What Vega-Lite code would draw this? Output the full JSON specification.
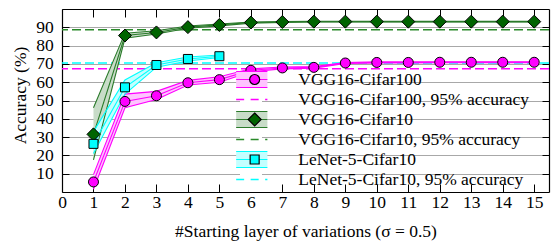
{
  "$schema": "https://vega.github.io/schema/vega-lite/v6.json",
  "width": 487,
  "height": 183,
  "autosize": {"type": "none"},
  "padding": {"left": 62, "top": 9, "right": 4, "bottom": 52},
  "background": "white",
  "datasets": {
    "bands": [
      {"series": "VGG16-Cifar100", "x": 1, "mean": 5.5, "lo": 1.5, "hi": 9.5},
      {"series": "VGG16-Cifar100", "x": 2, "mean": 49.5, "lo": 46, "hi": 53.5},
      {"series": "VGG16-Cifar100", "x": 3, "mean": 52.6, "lo": 50.5, "hi": 55},
      {"series": "VGG16-Cifar100", "x": 4, "mean": 59.7, "lo": 58.5, "hi": 61},
      {"series": "VGG16-Cifar100", "x": 5, "mean": 61.4, "lo": 60, "hi": 63},
      {"series": "VGG16-Cifar100", "x": 6, "mean": 66.5, "lo": 65.7, "hi": 67.3},
      {"series": "VGG16-Cifar100", "x": 7, "mean": 67.8, "lo": 67.3, "hi": 68.3},
      {"series": "VGG16-Cifar100", "x": 8, "mean": 68.1, "lo": 67.7, "hi": 68.5},
      {"series": "VGG16-Cifar100", "x": 9, "mean": 70.5, "lo": 70.2, "hi": 70.8},
      {"series": "VGG16-Cifar100", "x": 10, "mean": 70.8, "lo": 70.5, "hi": 71.1},
      {"series": "VGG16-Cifar100", "x": 11, "mean": 70.8, "lo": 70.5, "hi": 71.1},
      {"series": "VGG16-Cifar100", "x": 12, "mean": 70.9, "lo": 70.6, "hi": 71.2},
      {"series": "VGG16-Cifar100", "x": 13, "mean": 70.9, "lo": 70.6, "hi": 71.2},
      {"series": "VGG16-Cifar100", "x": 14, "mean": 70.9, "lo": 70.6, "hi": 71.2},
      {"series": "VGG16-Cifar100", "x": 15, "mean": 70.9, "lo": 70.6, "hi": 71.2},
      {"series": "VGG16-Cifar10", "x": 1, "mean": 31.5, "lo": 17.5, "hi": 46},
      {"series": "VGG16-Cifar10", "x": 2, "mean": 85.5, "lo": 84, "hi": 86.8},
      {"series": "VGG16-Cifar10", "x": 3, "mean": 87.2, "lo": 86.3, "hi": 88.1},
      {"series": "VGG16-Cifar10", "x": 4, "mean": 90.1, "lo": 89.5, "hi": 90.7},
      {"series": "VGG16-Cifar10", "x": 5, "mean": 91.3, "lo": 90.8, "hi": 91.8},
      {"series": "VGG16-Cifar10", "x": 6, "mean": 92.6, "lo": 92.3, "hi": 92.9},
      {"series": "VGG16-Cifar10", "x": 7, "mean": 92.9, "lo": 92.7, "hi": 93.1},
      {"series": "VGG16-Cifar10", "x": 8, "mean": 93.1, "lo": 92.9, "hi": 93.3},
      {"series": "VGG16-Cifar10", "x": 9, "mean": 93.1, "lo": 92.9, "hi": 93.3},
      {"series": "VGG16-Cifar10", "x": 10, "mean": 93.1, "lo": 92.9, "hi": 93.3},
      {"series": "VGG16-Cifar10", "x": 11, "mean": 93.1, "lo": 92.9, "hi": 93.3},
      {"series": "VGG16-Cifar10", "x": 12, "mean": 93.1, "lo": 92.9, "hi": 93.3},
      {"series": "VGG16-Cifar10", "x": 13, "mean": 93.1, "lo": 92.9, "hi": 93.3},
      {"series": "VGG16-Cifar10", "x": 14, "mean": 93.1, "lo": 92.9, "hi": 93.3},
      {"series": "VGG16-Cifar10", "x": 15, "mean": 93.1, "lo": 92.9, "hi": 93.3},
      {"series": "LeNet-5-Cifar10", "x": 1, "mean": 26.3, "lo": 21, "hi": 33},
      {"series": "LeNet-5-Cifar10", "x": 2, "mean": 57.2, "lo": 53.5, "hi": 61.2},
      {"series": "LeNet-5-Cifar10", "x": 3, "mean": 69.4, "lo": 68.2, "hi": 70.6},
      {"series": "LeNet-5-Cifar10", "x": 4, "mean": 72.7, "lo": 71.6, "hi": 73.8},
      {"series": "LeNet-5-Cifar10", "x": 5, "mean": 74.2, "lo": 73.5, "hi": 74.9}
    ],
    "thresholds": [
      {"series": "VGG16-Cifar100, 95% accuracy", "acc": 67.3},
      {"series": "VGG16-Cifar10, 95% accuracy", "acc": 88.7},
      {"series": "LeNet-5-Cifar10, 95% accuracy", "acc": 70.5}
    ]
  },
  "config": {
    "view": {"stroke": null},
    "font": "Liberation Serif",
    "legend": {"labelFont": "Liberation Serif", "labelFontSize": 17.5, "labelLimit": 500, "titlePadding": 0}
  },
  "layer": [
    {
      "data": {"name": "thresholds"},
      "mark": {"type": "rule", "strokeWidth": 1.5, "opacity": 1},
      "encoding": {
        "y": {"field": "acc", "type": "quantitative", "scale": {"domain": [0, 100], "nice": false, "zero": false}, "axis": null},
        "stroke": {
          "field": "series", "type": "nominal",
          "scale": {"domain": ["VGG16-Cifar100", "VGG16-Cifar100, 95% accuracy", "VGG16-Cifar10", "VGG16-Cifar10, 95% accuracy", "LeNet-5-Cifar10", "LeNet-5-Cifar10, 95% accuracy"],
                    "range": ["transparent", "#ff00ff", "transparent", "#2a8a2a", "transparent", "#00ffff"]},
          "legend": {"orient": "none", "legendX": 173.9, "legendY": 60.8, "direction": "vertical", "title": null, "padding": 0, "rowPadding": 0, "clipHeight": 19.4,
                     "symbolSize": 100, "symbolStrokeWidth": 1.5, "symbolOffset": 10, "symbolType": "M-3.7,0H3.7", "symbolDash": [8, 6.5],
                     "labelExpr": "''", "zindex": 1}
        },
        "strokeDash": {
          "field": "series", "type": "nominal",
          "scale": {"domain": ["VGG16-Cifar100", "VGG16-Cifar100, 95% accuracy", "VGG16-Cifar10", "VGG16-Cifar10, 95% accuracy", "LeNet-5-Cifar10", "LeNet-5-Cifar10, 95% accuracy", "~"],
                    "range": [[9, 4], [9, 4], [9, 4], [9, 4], [9, 4], [9, 4], [9, 4]]},
          "legend": {"orient": "none", "legendX": 178, "legendY": 69, "direction": "vertical", "title": null, "padding": 0, "fillColor": "white",
                     "clipHeight": 18.5, "rowPadding": 0, "symbolSize": 4, "symbolStrokeWidth": 0, "symbolStrokeColor": "transparent", "symbolFillColor": "white",
                     "symbolType": "M0,-10H288V10H0Z", "labelExpr": "''",
                     "values": ["VGG16-Cifar100", "VGG16-Cifar100, 95% accuracy", "VGG16-Cifar10", "VGG16-Cifar10, 95% accuracy", "LeNet-5-Cifar10", "LeNet-5-Cifar10, 95% accuracy"],
                     "zindex": 0}
        }
      }
    },
    {
      "data": {"name": "bands"},
      "mark": {"type": "area", "opacity": 1, "clip": true},
      "encoding": {
        "x": {"field": "x", "type": "quantitative", "scale": {"domain": [0, 15.47], "nice": false, "zero": false},
              "axis": {"orient": "top", "values": [0,1,2,3,4,5,6,7,8,9,10,11,12,13,14,15], "labels": false, "title": null, "grid": false,
                       "tickSize": -8, "tickColor": "black", "domainColor": "black", "domainWidth": 1.2}},
        "y": {"field": "lo", "type": "quantitative", "scale": {"domain": [0, 100], "nice": false, "zero": false},
              "axis": {"orient": "right", "values": [10,20,30,40,50,60,70,80,90], "labels": false, "title": null, "grid": false,
                       "tickSize": -7, "tickColor": "black", "domainColor": "black", "domainWidth": 1.2}},
        "y2": {"field": "hi"},
        "fill": {
          "field": "series", "type": "nominal",
          "scale": {"domain": ["VGG16-Cifar100", "VGG16-Cifar100, 95% accuracy", "VGG16-Cifar10", "VGG16-Cifar10, 95% accuracy", "LeNet-5-Cifar10", "LeNet-5-Cifar10, 95% accuracy"],
                    "range": ["#ffc4ff", "transparent", "#c8dcc8", "transparent", "#c4ffff", "transparent"]},
          "legend": {"orient": "none", "legendX": 173.9, "legendY": 60.8, "direction": "vertical", "title": null, "padding": 0, "rowPadding": 0, "clipHeight": 19.4,
                     "symbolSize": 100, "symbolStrokeWidth": 1.2, "symbolOffset": 10, "symbolStrokeColor": "transparent", "symbolType": "M-3.7,-1.6H3.7V1.6H-3.7Z",
                     "labelExpr": "''", "zindex": 1}
        }
      }
    },
    {
      "data": {"name": "bands"},
      "transform": [{"fold": ["lo", "hi", "mean"], "as": ["key", "val"]}],
      "mark": {"type": "line", "strokeWidth": 1.1, "opacity": 1, "clip": true},
      "encoding": {
        "x": {"field": "x", "type": "quantitative", "scale": {"domain": [0, 15.47], "nice": false, "zero": false},
              "axis": {"orient": "bottom", "values": [0,1,2,3,4,5,6,7,8,9,10,11,12,13,14,15], "title": "#Starting layer of variations (σ = 0.5)",
                       "grid": false, "tickSize": -8, "tickColor": "black", "domainColor": "black", "domainWidth": 1.2,
                       "labelFont": "Liberation Serif", "labelFontSize": 17.5, "labelColor": "black", "labelPadding": 9.5, "labelFlush": false,
                       "titleFont": "Liberation Serif", "titleFontSize": 17.5, "titleFontWeight": "normal", "titleColor": "black",
                       "titleY": 39, "titleBaseline": "middle"}},
        "y": {"field": "val", "type": "quantitative", "scale": {"domain": [0, 100], "nice": false, "zero": false},
              "axis": {"orient": "left", "values": [10,20,30,40,50,60,70,80,90], "title": "Accuracy (%)",
                       "grid": true, "gridColor": "#a8a8a8", "gridWidth": 1,
                       "tickSize": -7, "tickColor": "black", "domainColor": "black", "domainWidth": 1.2,
                       "labelFont": "Liberation Serif", "labelFontSize": 17.5, "labelColor": "black", "labelPadding": 15.7,
                       "titleFont": "Liberation Serif", "titleFontSize": 17.5, "titleFontWeight": "normal", "titleColor": "black",
                       "titleX": -42, "titleY": 86, "titleAngle": -90, "titleBaseline": "middle", "titleAlign": "center"}},
        "detail": {"field": "key", "type": "nominal"},
        "stroke": {
          "field": "series", "type": "nominal",
          "scale": {"domain": ["VGG16-Cifar100", "VGG16-Cifar100, 95% accuracy", "VGG16-Cifar10", "VGG16-Cifar10, 95% accuracy", "LeNet-5-Cifar10", "LeNet-5-Cifar10, 95% accuracy"],
                    "range": ["#ff00ff", "transparent", "#2a7a2a", "transparent", "#00ffff", "transparent"]},
          "legend": {"orient": "none", "legendX": 173.9, "legendY": 60.8, "direction": "vertical", "title": null, "padding": 0, "rowPadding": 0, "clipHeight": 19.4,
                     "symbolSize": 100, "symbolStrokeWidth": 1.2, "symbolOffset": 10, "symbolFillColor": "transparent", "symbolType": "M-3.7,-1.6H3.7M-3.7,0H3.7M-3.7,1.6H3.7",
                     "labelExpr": "''", "zindex": 1}
        }
      }
    },
    {
      "data": {"name": "bands"},
      "mark": {"type": "point", "filled": true, "size": 100, "stroke": "black", "strokeWidth": 1, "opacity": 1, "clip": true},
      "encoding": {
        "x": {"field": "x", "type": "quantitative", "scale": {"domain": [0, 15.47], "nice": false, "zero": false}, "axis": null},
        "y": {"field": "mean", "type": "quantitative", "scale": {"domain": [0, 100], "nice": false, "zero": false}, "axis": null},
        "color": {
          "field": "series", "type": "nominal",
          "scale": {"domain": ["VGG16-Cifar100", "VGG16-Cifar100, 95% accuracy", "VGG16-Cifar10", "VGG16-Cifar10, 95% accuracy", "LeNet-5-Cifar10", "LeNet-5-Cifar10, 95% accuracy"],
                    "range": ["#ff00ff", "transparent", "#006400", "transparent", "#00ffff", "transparent"]},
          "legend": {"orient": "none", "legendX": 173.9, "legendY": 60.8, "direction": "vertical", "title": null, "padding": 0, "rowPadding": 0, "clipHeight": 19.4,
                     "symbolSize": 100, "symbolStrokeWidth": 1.2, "symbolOffset": 10,
                     "labelOffset": 34.9, "labelColor": "black", "zindex": 1}
        },
        "shape": {
          "field": "series", "type": "nominal",
          "scale": {"domain": ["VGG16-Cifar100", "VGG16-Cifar100, 95% accuracy", "VGG16-Cifar10", "VGG16-Cifar10, 95% accuracy", "LeNet-5-Cifar10", "LeNet-5-Cifar10, 95% accuracy"],
                    "range": ["circle", "M0,0", "M0,-1.3L1.3,0L0,1.3L-1.3,0Z", "M0,0", "M-0.9,-0.9H0.9V0.9H-0.9Z", "M0,0"]},
          "legend": {"orient": "none", "legendX": 173.9, "legendY": 60.8, "direction": "vertical", "title": null, "padding": 0, "rowPadding": 0, "clipHeight": 19.4,
                     "symbolSize": 100, "symbolStrokeWidth": 1.2, "symbolOffset": 10,
                     "labelOffset": 34.9, "labelColor": "black", "zindex": 1}
        }
      }
    }
  ],
  "resolve": {
    "axis": {"x": "independent", "y": "independent"},
    "scale": {"stroke": "independent", "fill": "independent", "color": "independent", "shape": "independent", "strokeDash": "independent"},
    "legend": {"stroke": "independent", "fill": "independent", "color": "independent", "shape": "independent", "strokeDash": "independent"}
  }
}
